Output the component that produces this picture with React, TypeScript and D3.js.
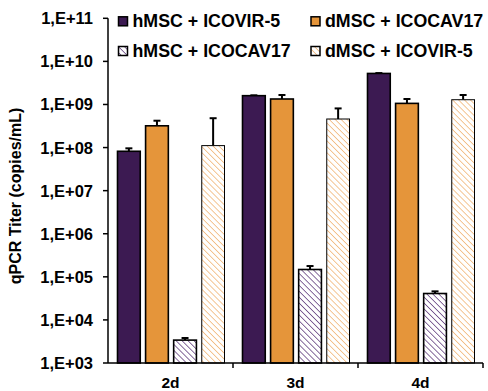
import React from "react";
import * as d3 from "d3";

const days = ["2d", "3d", "4d"];
const seriesNames = ["hMSC + ICOVIR-5", "dMSC + ICOCAV17", "hMSC + ICOCAV17", "dMSC + ICOVIR-5"];
const hMscIcovir5 = [8.2e7, 1.6e9, 5.25e9];
const hMscIcovir5Err = [9.6e7, 1.63e9, 5.35e9];
const dMscIcocav17 = [3.2e8, 1.34e9, 1.06e9];
const dMscIcocav17Err = [4.2e8, 1.66e9, 1.34e9];
const hMscIcocav17 = [3.4e3, 1.48e5, 4.1e4];
const hMscIcocav17Err = [3.8e3, 1.78e5, 4.6e4];
const dMscIcovir5 = [1.11e8, 4.6e8, 1.29e9];
const dMscIcovir5Err = [4.8e8, 8.1e8, 1.66e9];
const yTicks = [1e3, 1e4, 1e5, 1e6, 1e7, 1e8, 1e9, 1e10, 1e11];

const PURPLE = "#3c1a52";
const ORANGE = "#e5953a";

const values = [hMscIcovir5, dMscIcocav17, hMscIcocav17, dMscIcovir5];
const errors = [hMscIcovir5Err, dMscIcocav17Err, hMscIcocav17Err, dMscIcovir5Err];
const fills = [PURPLE, ORANGE, "url(#hatchPurple)", "url(#hatchOrange)"];

const fmt = (v: number) => "1,E+" + String(Math.round(Math.log10(v))).padStart(2, "0");

const App = () => {
  const width = 488;
  const height = 391;
  const left = 108;
  const right = 483;
  const top = 18.3;
  const bottom = 363;

  const x = d3.scaleBand().domain(days).range([left, right]);
  const inner = d3
    .scaleBand<number>()
    .domain([0, 1, 2, 3])
    .range([9.5, x.bandwidth() - 8.5])
    .paddingInner(0.19);
  const y = d3.scaleLog().domain([1e3, 1e11]).range([bottom, top]);

  const font = "Arial, 'Liberation Sans', sans-serif";

  return (
    <svg width={width} height={height} style={{ position: "absolute", left: 0, top: 0 }}>
      <defs>
        <pattern id="hatchPurple" patternUnits="userSpaceOnUse" width="4.2" height="4.2" patternTransform="rotate(-45)">
          <rect width="4.2" height="4.2" fill="#fff" />
          <line x1="0" y1="0" x2="0" y2="4.2" stroke="#6b4a86" strokeWidth="1.6" />
        </pattern>
        <pattern id="hatchOrange" patternUnits="userSpaceOnUse" width="4.2" height="4.2" patternTransform="rotate(-45)">
          <rect width="4.2" height="4.2" fill="#fff" />
          <line x1="0" y1="0" x2="0" y2="4.2" stroke="#f2b97c" strokeWidth="1.6" />
        </pattern>
      </defs>
      <rect width={width} height={height} fill="#fff" />

      {days.map((d, i) => (
        <g key={d} transform={`translate(${x(d)},0)`}>
          {values.map((vals, s) => {
            const bx = inner(s) as number;
            const bw = inner.bandwidth();
            const cx = bx + bw / 2;
            return (
              <g key={s}>
                <line x1={cx} x2={cx} y1={y(vals[i])} y2={y(errors[s][i])} stroke="#000" strokeWidth={2} />
                <line x1={cx - 3.5} x2={cx + 3.5} y1={y(errors[s][i])} y2={y(errors[s][i])} stroke="#000" strokeWidth={2} />
                <rect
                  x={bx}
                  y={y(vals[i])}
                  width={bw}
                  height={bottom - y(vals[i])}
                  fill={fills[s]}
                  stroke="#000"
                  strokeWidth={s === 3 ? 1 : 1.6}
                />
              </g>
            );
          })}
        </g>
      ))}

      {/* y axis */}
      <line x1={left} x2={left} y1={top} y2={bottom} stroke="#000" strokeWidth={1.5} />
      {yTicks.map((t) => (
        <g key={t}>
          <line x1={left - 5} x2={left} y1={y(t)} y2={y(t)} stroke="#000" strokeWidth={1.5} />
          <text
            x={93}
            y={y(t)}
            textAnchor="end"
            dominantBaseline="central"
            fontFamily={font}
            fontWeight="bold"
            fontSize={16.5}
          >
            {fmt(t)}
          </text>
        </g>
      ))}
      <text
        transform={`translate(15,196) rotate(-90)`}
        textAnchor="middle"
        dominantBaseline="central"
        fontFamily={font}
        fontWeight="bold"
        fontSize={16}
      >
        qPCR Titer (copies/mL)
      </text>

      {/* x axis */}
      <line x1={left} x2={right} y1={bottom} y2={bottom} stroke="#000" strokeWidth={1.5} />
      {days.map((d) => (
        <g key={d}>
          <line x1={(x(d) as number) + x.bandwidth()} x2={(x(d) as number) + x.bandwidth()} y1={bottom} y2={bottom + 5} stroke="#000" strokeWidth={1.5} />
          <text
            x={(x(d) as number) + x.bandwidth() / 2}
            y={388}
            textAnchor="middle"
            fontFamily={font}
            fontWeight="bold"
            fontSize={15.5}
          >
            {d}
          </text>
        </g>
      ))}

      {/* legend */}
      {seriesNames.map((name, s) => {
        const lx = s % 2 === 0 ? 118.5 : 311;
        const ly = s < 2 ? 21.3 : 51;
        return (
          <g key={name}>
            <rect x={lx} y={ly - 4.5} width={9} height={9} fill={fills[s]} stroke="#000" strokeWidth={1.5} />
            <text
              x={lx + 14}
              y={ly}
              dominantBaseline="central"
              fontFamily={font}
              fontWeight="bold"
              fontSize={17.8}
            >
              {name}
            </text>
          </g>
        );
      })}
    </svg>
  );
};

export default App;
